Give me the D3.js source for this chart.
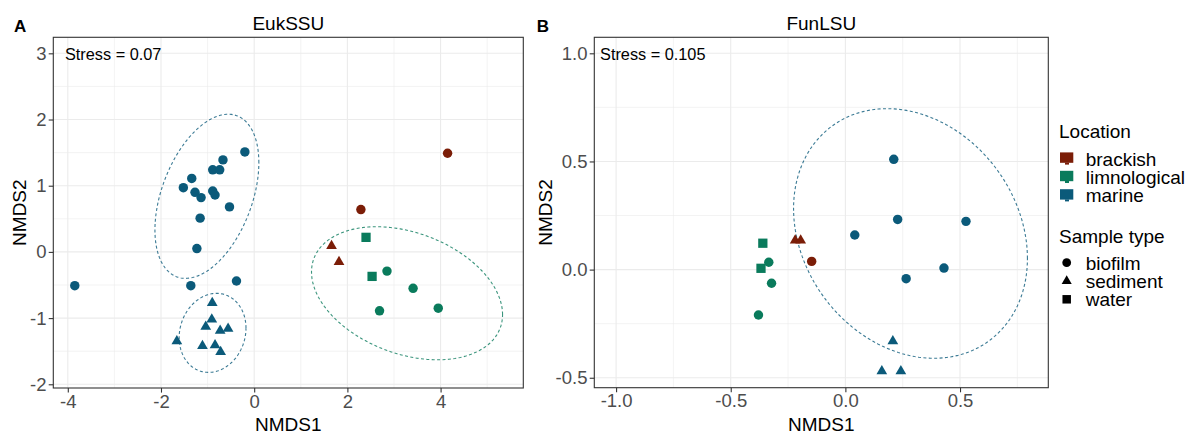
<!DOCTYPE html>
<html>
<head>
<meta charset="utf-8">
<script src="https://cdn.jsdelivr.net/npm/d3@7"></script>
<style>
  body { margin: 0; background: #fff; }
  svg { font-family: "Liberation Sans", Arial, sans-serif; }
</style>
</head>
<body>
<div id="chart"></div>
<script>
// categories
var locations = ["brackish", "limnological", "marine"];
var sampleTypes = ["biofilm", "sediment", "water"];
var locationColours = ["#7B1D07", "#0A7B5C", "#0B5A7A"];

// EukSSU ordination
var eukNMDS1 = [-3.85, -0.20, -0.67, -0.89, -0.74, -1.34, -1.52, -1.27, -1.14, -0.89, -0.84, -0.53, -1.16, -1.23, -1.36, -0.38,
                -0.90, -0.91, -1.04, -0.73, -0.56, -1.66, -1.11, -0.84, -0.72,
                2.29, 4.15, 1.66, 1.82,
                2.40, 2.53, 2.85, 3.41, 2.69, 3.95];
var eukNMDS2 = [-0.51, 1.51, 1.39, 1.24, 1.24, 1.11, 0.97, 0.90, 0.82, 0.92, 0.86, 0.68, 0.51, 0.05, -0.51, -0.44,
                -0.77, -1.02, -1.13, -1.19, -1.16, -1.35, -1.42, -1.41, -1.51,
                0.64, 1.49, 0.09, -0.15,
                0.22, -0.37, -0.29, -0.55, -0.89, -0.85];
var eukLocation = ["marine", "marine", "marine", "marine", "marine", "marine", "marine", "marine", "marine", "marine", "marine", "marine", "marine", "marine", "marine", "marine",
                   "marine", "marine", "marine", "marine", "marine", "marine", "marine", "marine", "marine",
                   "brackish", "brackish", "brackish", "brackish",
                   "limnological", "limnological", "limnological", "limnological", "limnological", "limnological"];
var eukType = ["biofilm", "biofilm", "biofilm", "biofilm", "biofilm", "biofilm", "biofilm", "biofilm", "biofilm", "biofilm", "biofilm", "biofilm", "biofilm", "biofilm", "biofilm", "biofilm",
               "sediment", "sediment", "sediment", "sediment", "sediment", "sediment", "sediment", "sediment", "sediment",
               "biofilm", "biofilm", "sediment", "sediment",
               "water", "water", "biofilm", "biofilm", "biofilm", "biofilm"];
// ellipses: centre, half extents and correlation, in NMDS units
var eukEllipses = [
  {location: "marine", cx: -1.015, cy: 0.84, sx: 1.115, sy: 1.24, r: 0.41},
  {location: "marine", cx: -0.893, cy: -1.223, sx: 0.717, sy: 0.597, r: 0.12},
  {location: "limnological", cx: 3.28, cy: -0.625, sx: 2.05, sy: 1.005, r: -0.32}
];

// FunLSU ordination
var funNMDS1 = [0.211, 0.228, 0.526, 0.041, 0.430, 0.265,
                0.207, 0.159, 0.242,
                -0.219, -0.195, -0.147,
                -0.360, -0.368, -0.334, -0.322, -0.379];
var funNMDS2 = [0.510, 0.232, 0.223, 0.160, 0.007, -0.042,
                -0.331, -0.470, -0.470,
                0.135, 0.135, 0.038,
                0.122, 0.006, 0.034, -0.063, -0.210];
var funLocation = ["marine", "marine", "marine", "marine", "marine", "marine",
                   "marine", "marine", "marine",
                   "brackish", "brackish", "brackish",
                   "limnological", "limnological", "limnological", "limnological", "limnological"];
var funType = ["biofilm", "biofilm", "biofilm", "biofilm", "biofilm", "biofilm",
               "sediment", "sediment", "sediment",
               "sediment", "sediment", "biofilm",
               "water", "water", "biofilm", "biofilm", "biofilm"];
var funEllipses = [
  {location: "marine", cx: 0.284, cy: 0.167, sx: 0.510, sy: 0.577, r: -0.20}
];

// tick labels
var eukXTicks = [-4, -2, 0, 2, 4];
var eukYTicks = [-2, -1, 0, 1, 2, 3];
var funXTicks = [-1.0, -0.5, 0.0, 0.5];
var funYTicks = [-0.5, 0.0, 0.5, 1.0];

var width = 1194, height = 434;
var colour = d3.scaleOrdinal().domain(locations).range(locationColours);
var shape = d3.scaleOrdinal().domain(sampleTypes).range([d3.symbolCircle, d3.symbolTriangle, d3.symbolSquare]);
var shapeSize = d3.scaleOrdinal().domain(sampleTypes).range([70, 50, 86]);

var svg = d3.select("#chart").append("svg")
  .attr("width", width)
  .attr("height", height);

svg.append("rect").attr("width", width).attr("height", height).attr("fill", "#fff");

var panels = [
  {tag: "A", title: "EukSSU", stress: "Stress = 0.07", left: 53.3, right: 523.3, top: 37.3, bottom: 388,
   xDomain: [-4.311, 5.775], yDomain: [-2.056, 3.242], xTicks: eukXTicks, yTicks: eukYTicks,
   fmt: function(d) { return String(d); }, stressAt: [-4.06, 3], tagX: 14, yTitleX: 26,
   x: eukNMDS1, y: eukNMDS2, loc: eukLocation, type: eukType, ellipses: eukEllipses},
  {tag: "B", title: "FunLSU", stress: "Stress = 0.105", left: 594.3, right: 1048.3, top: 37.3, bottom: 387.7,
   xDomain: [-1.095, 0.885], yDomain: [-0.546, 1.074], xTicks: funXTicks, yTicks: funYTicks,
   fmt: function(d) { return d.toFixed(1); }, stressAt: [-1.07, 1.0], tagX: 536.7, yTitleX: 552,
   x: funNMDS1, y: funNMDS2, loc: funLocation, type: funType, ellipses: funEllipses}
];

// minor breaks halfway between the major ones, one step past each end if still inside
function minorBreaks(ticks, domain) {
  var step = ticks[1] - ticks[0], out = [];
  for (var v = ticks[0] - step / 2; v <= domain[1]; v += step) {
    if (v >= domain[0]) out.push(v);
  }
  return out;
}

panels.forEach(function(p) {
  var x = d3.scaleLinear().domain(p.xDomain).range([p.left, p.right]);
  var y = d3.scaleLinear().domain(p.yDomain).range([p.bottom, p.top]);
  var g = svg.append("g");

  // grid
  var grid = g.append("g").attr("stroke", "#ebebeb").attr("fill", "none");
  minorBreaks(p.xTicks, p.xDomain).forEach(function(v) {
    grid.append("line").attr("x1", x(v)).attr("x2", x(v)).attr("y1", p.top).attr("y2", p.bottom).attr("stroke-width", 0.6);
  });
  minorBreaks(p.yTicks, p.yDomain).forEach(function(v) {
    grid.append("line").attr("y1", y(v)).attr("y2", y(v)).attr("x1", p.left).attr("x2", p.right).attr("stroke-width", 0.6);
  });
  p.xTicks.forEach(function(v) {
    grid.append("line").attr("x1", x(v)).attr("x2", x(v)).attr("y1", p.top).attr("y2", p.bottom).attr("stroke-width", 1.1);
  });
  p.yTicks.forEach(function(v) {
    grid.append("line").attr("y1", y(v)).attr("y2", y(v)).attr("x1", p.left).attr("x2", p.right).attr("stroke-width", 1.1);
  });

  // ellipses
  var ts = d3.range(0, 2 * Math.PI + 0.001, Math.PI / 90);
  p.ellipses.forEach(function(e) {
    var line = d3.line()
      .x(function(t) { return x(e.cx + e.sx * Math.cos(t)); })
      .y(function(t) { return y(e.cy + e.sy * (e.r * Math.cos(t) + Math.sqrt(1 - e.r * e.r) * Math.sin(t))); });
    g.append("path")
      .attr("d", line(ts))
      .attr("fill", "none")
      .attr("stroke", colour(e.location))
      .attr("stroke-opacity", 0.8)
      .attr("stroke-width", 1.1)
      .attr("stroke-dasharray", "3 2.4");
  });

  // points
  g.append("g").selectAll("path")
    .data(d3.range(p.x.length))
    .enter().append("path")
    .attr("transform", function(i) { return "translate(" + x(p.x[i]) + "," + y(p.y[i]) + ")"; })
    .attr("d", function(i) { return d3.symbol().type(shape(p.type[i])).size(shapeSize(p.type[i]))(); })
    .attr("fill", function(i) { return colour(p.loc[i]); });

  // panel border
  g.append("rect")
    .attr("x", p.left).attr("y", p.top)
    .attr("width", p.right - p.left).attr("height", p.bottom - p.top)
    .attr("fill", "none").attr("stroke", "#333").attr("stroke-width", 1.1);

  // axes
  var xAxis = g.append("g").attr("transform", "translate(0," + p.bottom + ")")
    .call(d3.axisBottom(x).tickValues(p.xTicks).tickFormat(p.fmt).tickSize(4.6).tickPadding(2));
  var yAxis = g.append("g").attr("transform", "translate(" + p.left + ",0)")
    .call(d3.axisLeft(y).tickValues(p.yTicks).tickFormat(p.fmt).tickSize(4.6).tickPadding(2.2));
  [xAxis, yAxis].forEach(function(a) {
    a.select(".domain").remove();
    a.selectAll(".tick line").attr("stroke", "#333").attr("stroke-width", 1.1);
    a.selectAll(".tick text").attr("fill", "#4d4d4d").style("font-size", "18.5px")
      .style("font-family", "'Liberation Sans', Arial, sans-serif");
  });

  // titles
  g.append("text").attr("x", (p.left + p.right) / 2).attr("y", 29.5)
    .attr("text-anchor", "middle").style("font-size", "19px").text(p.title);
  g.append("text").attr("x", p.tagX).attr("y", 31.7)
    .style("font-size", "17px").style("font-weight", "bold").text(p.tag);
  g.append("text").attr("x", (p.left + p.right) / 2).attr("y", 430.5)
    .attr("text-anchor", "middle").style("font-size", "19px").text("NMDS1");
  g.append("text")
    .attr("transform", "translate(" + p.yTitleX + "," + (p.top + p.bottom) / 2 + ") rotate(-90)")
    .attr("text-anchor", "middle").style("font-size", "19px").text("NMDS2");

  // stress annotation
  g.append("text").attr("x", x(p.stressAt[0])).attr("y", y(p.stressAt[1]) + 6.5)
    .style("font-size", "16.3px").text(p.stress);
});

// legends
var legend = svg.append("g").attr("transform", "translate(1059,0)");
legend.append("text").attr("x", 0).attr("y", 138.3).style("font-size", "19px").text("Location");
locations.forEach(function(l, i) {
  var cy = 157.6 + i * 18.4;
  legend.append("rect").attr("x", 1).attr("y", cy - 5.2).attr("width", 13.3).attr("height", 10.4).attr("fill", colour(l));
  legend.append("rect").attr("x", 6).attr("y", cy + 5).attr("width", 4).attr("height", 2).attr("fill", colour(l));
  legend.append("text").attr("x", 26.7).attr("y", cy + 8).style("font-size", "19px").text(l);
});

legend.append("text").attr("x", 0).attr("y", 243.3).style("font-size", "19px").text("Sample type");
var keySize = d3.scaleOrdinal().domain(sampleTypes).range([60, 44, 72]);
sampleTypes.forEach(function(s, i) {
  var cy = 262.7 + i * 18.3;
  legend.append("path")
    .attr("transform", "translate(7.7," + cy + ")")
    .attr("d", d3.symbol().type(shape(s)).size(keySize(s))())
    .attr("fill", "#000");
  legend.append("text").attr("x", 26.7).attr("y", cy + 7).style("font-size", "19px").text(s);
});
</script>
</body>
</html>
